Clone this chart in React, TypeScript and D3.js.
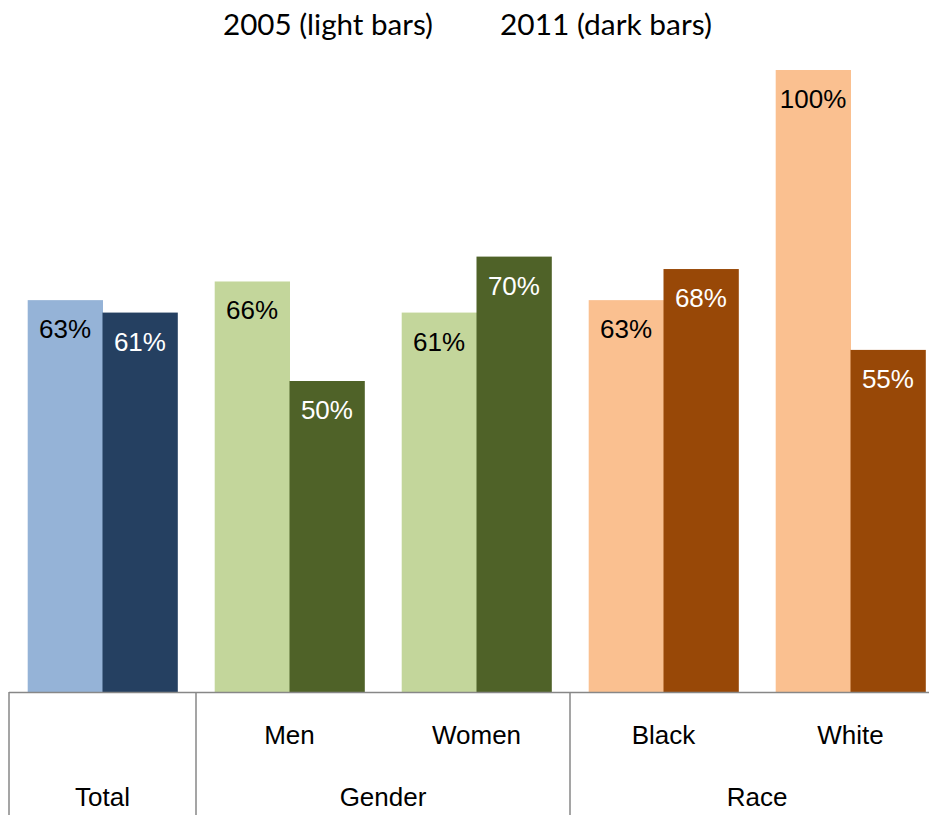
import React from "react";
import * as d3 from "d3";

const categories = ["Total", "Men", "Women", "Black", "White"];
const groupOf = ["Total", "Gender", "Gender", "Race", "Race"];
const groups = ["Total", "Gender", "Race"];
const series = ["2005", "2011"];
const values2005 = [63, 66, 61, 63, 100];
const values2011 = [61, 50, 70, 68, 55];
const lightColors = ["#95B3D7", "#C3D69B", "#C3D69B", "#FAC090", "#FAC090"];
const darkColors = ["#254061", "#4F6228", "#4F6228", "#984807", "#984807"];
const legendLabels = ["2005 (light bars)", "2011 (dark bars)"];

const W = 929;
const H = 815;

export default function App() {
  const x = d3.scaleBand<string>().domain(categories).range([9, 944]).paddingInner(0.2).paddingOuter(0.1);
  const xs = d3.scaleBand<string>().domain(series).range([0, x.bandwidth()]).padding(0);
  const y = d3.scaleLinear().domain([0, 100]).range([692, 70]);
  const baseY = y(0);
  const font = "'Liberation Sans', Arial, sans-serif";

  const groupExtents = groups.map((g) => {
    const idx = categories.map((c, i) => (groupOf[i] === g ? i : -1)).filter((i) => i >= 0);
    const first = x(categories[idx[0]])!;
    const last = x(categories[idx[idx.length - 1]])!;
    const half = (x.step() - x.bandwidth()) / 2;
    return { g, left: first - half, right: last + x.bandwidth() + half };
  });

  return (
    <svg width={W} height={H} style={{ position: "absolute", left: 0, top: 0, background: "#fff" }}>
      <g fontFamily="Lato, 'Open Sans', sans-serif" fontSize={29.5} fill="#000">
        <text x={223} y={35} textLength={210} lengthAdjust="spacingAndGlyphs">{legendLabels[0]}</text>
        <text x={500} y={35} textLength={212} lengthAdjust="spacingAndGlyphs">{legendLabels[1]}</text>
      </g>
      {categories.map((c, i) => {
        const vals = [values2005[i], values2011[i]];
        const cols = [lightColors[i], darkColors[i]];
        return (
          <g key={c}>
            {series.map((s, j) => {
              const bx = x(c)! + xs(s)!;
              const by = y(vals[j]);
              return (
                <g key={s}>
                  <rect x={bx} y={by} width={xs.bandwidth() + 0.5} height={baseY - by} fill={cols[j]} />
                  <text
                    x={bx + xs.bandwidth() / 2}
                    y={by + 38}
                    textAnchor="middle"
                    fontFamily={font}
                    fontSize={26}
                    fill={j === 0 ? "#000" : "#fff"}
                  >
                    {vals[j]}%
                  </text>
                </g>
              );
            })}
          </g>
        );
      })}
      <line x1={9} x2={W} y1={692.5} y2={692.5} stroke="#878787" strokeWidth={1.5} />
      {groupExtents.map((e) => (
        <line key={e.g} x1={e.left} x2={e.left} y1={692} y2={H} stroke="#878787" strokeWidth={1.5} />
      ))}
      <g fontFamily={font} fontSize={26} fill="#000" textAnchor="middle">
        {categories.map((c, i) =>
          groupOf[i] !== c ? (
            <text key={c} x={x(c)! + x.bandwidth() / 2} y={744}>
              {c}
            </text>
          ) : null
        )}
        {groupExtents.map((e) => (
          <text key={e.g} x={(e.left + e.right) / 2} y={806}>
            {e.g}
          </text>
        ))}
      </g>
    </svg>
  );
}
